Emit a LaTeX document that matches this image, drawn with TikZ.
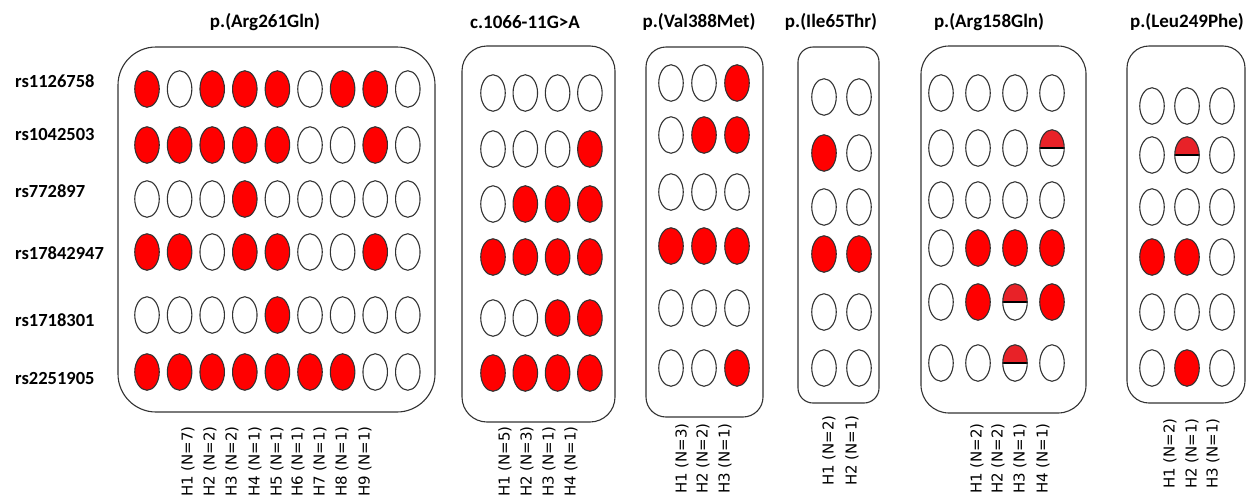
\documentclass[tikz,border=0pt]{standalone}
\usepackage{fontspec}
\setmainfont{Carlito}
\newfontfamily\labfont{DejaVu Sans}
\usetikzlibrary{shapes.geometric}
\definecolor{edge}{RGB}{50,50,50}
\definecolor{fullred}{RGB}{255,0,0}
\definecolor{halfred}{RGB}{232,34,40}
\begin{document}
\begin{tikzpicture}[x=1pt,y=-1pt,
 ell/.style={ellipse, draw=edge, line width=1.1pt, minimum width=24.5pt, minimum height=36.5pt, inner sep=0pt},
 ellW/.style={ell, fill=white},
 ellR/.style={ell, fill=fullred},
 ellH/.style={ell, fill=white, path picture={\fill[halfred] (path picture bounding box.north west) rectangle (path picture bounding box.east); \draw[black, line width=1.8pt] (path picture bounding box.west) -- (path picture bounding box.east);}},
 box/.style={draw=edge, line width=1.1pt, rectangle, inner sep=0pt},
 title/.style={font=\bfseries\fontsize{19}{22}\selectfont, inner sep=0pt},
 rs/.style={font=\bfseries\fontsize{18.5}{22}\selectfont, anchor=west, inner sep=0pt},
 hap/.style={font=\labfont\fontsize{15}{18}\selectfont, rotate=90, anchor=west, inner sep=0pt}
]
\useasboundingbox (0,0) rectangle (1247,498);

% titles
\node[title] (t1) at (265,22) {p.(Arg261Gln)};
\node[title] (t2) at (525,22) {c.1066-11G>A};
\node[title] (t3) at (699,22) {p.(Val388Met)};
\node[title] (t4) at (831,22) {p.(Ile65Thr)};
\node[title] (t5) at (989,22) {p.(Arg158Gln)};
\node[title] (t6) at (1187,22) {p.(Leu249Phe)};

% SNP labels
\node[rs] (rs1) at (15,81) {rs1126758};
\node[rs] (rs2) at (15,134) {rs1042503};
\node[rs] (rs3) at (15,191) {rs772897};
\node[rs] (rs4) at (15,253) {rs17842947};
\node[rs] (rs5) at (15,320) {rs1718301};
\node[rs] (rs6) at (15,378) {rs2251905};

% boxes
\node[box, rounded corners=38pt, minimum width=317pt, minimum height=365pt] (box1) at (276.5,229.5) {};
\node[box, rounded corners=25pt, minimum width=153pt, minimum height=376pt] (box2) at (538.5,234) {};
\node[box, rounded corners=20pt, minimum width=117pt, minimum height=370pt] (box3) at (704.5,232) {};
\node[box, rounded corners=15pt, minimum width=81pt, minimum height=356pt] (box4) at (838.5,225) {};
\node[box, rounded corners=28pt, minimum width=165pt, minimum height=367pt] (box5) at (1003.5,229.5) {};
\node[box, rounded corners=22pt, minimum width=118pt, minimum height=357pt] (box6) at (1186,224.5) {};

% box 1
\foreach \r/\yy/\pat in {1/89/{R,W,R,R,R,W,R,R,W},2/145/{R,R,R,R,R,W,W,R,W},3/199/{W,W,W,R,W,W,W,W,W},4/252/{R,R,W,R,R,W,W,R,W},5/315/{W,W,W,W,R,W,W,W,W},6/372/{R,R,R,R,R,R,R,W,W}}{
  \foreach \f [count=\c] in \pat {\node[ell\f] (a-\r-\c) at ({147+(\c-1)*32.6},\yy) {};}
}
% box 2
\foreach \r/\yy/\pat in {1/93/{W,W,W,W},2/149/{W,W,W,R},3/204/{W,R,R,R},4/257/{R,R,R,R},5/318/{W,W,R,R},6/373/{R,R,R,R}}{
  \foreach \f [count=\c] in \pat {\node[ell\f] (b-\r-\c) at ({493+(\c-1)*32.3},\yy) {};}
}
% box 3
\foreach \r/\yy/\pat in {1/83/{W,W,R},2/135/{W,R,R},3/192/{W,W,W},4/246/{R,R,R},5/308/{W,W,W},6/368/{W,W,R}}{
  \foreach \f [count=\c] in \pat {\node[ell\f] (c-\r-\c) at ({671+(\c-1)*33},\yy) {};}
}
% box 4
\foreach \r/\yy/\pat in {1/97/{W,W},2/153/{R,W},3/207/{W,W},4/254/{R,R},5/312/{W,W},6/368/{W,W}}{
  \foreach \f [count=\c] in \pat {\node[ell\f] (d-\r-\c) at ({824+(\c-1)*35},\yy) {};}
}
% box 5
\foreach \r/\yy/\pat in {1/93/{W,W,W,W},2/148/{W,W,W,H},3/200/{W,W,W,W},4/248/{W,R,R,R},5/302/{W,R,H,R},6/363/{W,W,H,W}}{
  \foreach \f [count=\c] in \pat {\node[ell\f] (e-\r-\c) at ({941+(\c-1)*37},\yy) {};}
}
% box 6
\foreach \r/\yy/\pat in {1/106/{W,W,W},2/155/{W,H,W},3/207/{W,W,W},4/257/{R,R,W},5/312/{W,W,W},6/368/{W,R,W}}{
  \foreach \f [count=\c] in \pat {\node[ell\f] (f-\r-\c) at ({1152+(\c-1)*35},\yy) {};}
}

% haplotype labels
\node[hap] (h1-1) at (188,497) {H1 (N=7)};
\node[hap] (h1-2) at (210,497) {H2 (N=2)};
\node[hap] (h1-3) at (232,497) {H3 (N=2)};
\node[hap] (h1-4) at (255,497) {H4 (N=1)};
\node[hap] (h1-5) at (277,497) {H5 (N=1)};
\node[hap] (h1-6) at (298,497) {H6 (N=1)};
\node[hap] (h1-7) at (320,497) {H7 (N=1)};
\node[hap] (h1-8) at (342,497) {H8 (N=1)};
\node[hap] (h1-9) at (365,497) {H9 (N=1)};

\node[hap] (h2-1) at (505,497) {H1 (N=5)};
\node[hap] (h2-2) at (527,497) {H2 (N=3)};
\node[hap] (h2-3) at (549,497) {H3 (N=1)};
\node[hap] (h2-4) at (571,497) {H4 (N=1)};

\node[hap] (h3-1) at (682,494) {H1 (N=3)};
\node[hap] (h3-2) at (703,494) {H2 (N=2)};
\node[hap] (h3-3) at (725,494) {H3 (N=1)};

\node[hap] (h4-1) at (829,486) {H1 (N=2)};
\node[hap] (h4-2) at (852,486) {H2 (N=1)};

\node[hap] (h5-1) at (977,494) {H1 (N=2)};
\node[hap] (h5-2) at (998,494) {H2 (N=2)};
\node[hap] (h5-3) at (1020,494) {H3 (N=1)};
\node[hap] (h5-4) at (1043,494) {H4 (N=1)};

\node[hap] (h6-1) at (1170,489) {H1 (N=2)};
\node[hap] (h6-2) at (1192,489) {H2 (N=1)};
\node[hap] (h6-3) at (1213,489) {H3 (N=1)};
\end{tikzpicture}
\end{document}
